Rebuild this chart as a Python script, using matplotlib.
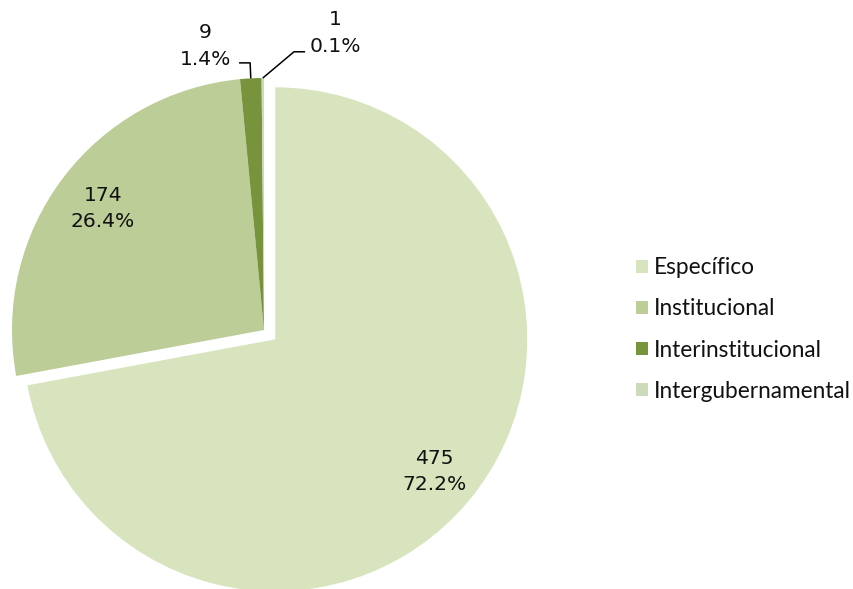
import matplotlib.pyplot as plt
import numpy as np

# Data
categories = ['Específico', 'Institucional', 'Interinstitucional', 'Intergubernamental']
counts = [475, 174, 9, 1]
percent_labels = ['72.2%', '26.4%', '1.4%', '0.1%']

colors = ['#D7E4BD', '#BCCD98', '#77933C', '#CEDBBA']
explode = [0.058, 0, 0, 0]

fig = plt.figure(figsize=(8.54, 5.89), dpi=100)
ax = fig.add_axes([0, 0, 1, 1])

wedges, _ = ax.pie(counts, colors=colors, explode=explode, startangle=90,
                   counterclock=False, wedgeprops=dict(linewidth=0))

# pie radius = 252 px, centre at (264, 330) px from top-left
ax.set_aspect('auto')
ax.set_xlim(-264 / 252, (854 - 264) / 252)
ax.set_ylim(-(589 - 330) / 252, 330 / 252)
ax.axis('off')

label_font = dict(fontsize=14.6, family='DejaVu Sans', color='#111111',
                  ha='center', va='center', linespacing=1.5)

# labels inside the two big slices
for w, n, p, dist in zip(wedges[:2], counts[:2], percent_labels[:2], [0.82, 0.8]):
    mid = np.deg2rad((w.theta1 + w.theta2) / 2)
    cx, cy = w.center
    ax.text(cx + dist * np.cos(mid), cy + dist * np.sin(mid), f'{n}\n{p}', **label_font)

# outside labels with leader lines for the two thin slices
outside = {
    2: dict(text=(-0.234, 1.127), line=[(-0.099, 1.06), (-0.055, 1.06)]),
    3: dict(text=(0.282, 1.179), line=[(0.163, 1.104), (0.119, 1.104)]),
}
for i, spec in outside.items():
    w = wedges[i]
    mid = np.deg2rad((w.theta1 + w.theta2) / 2)
    cx, cy = w.center
    rim = (cx + np.cos(mid), cy + np.sin(mid))
    pts = spec['line'] + [rim]
    ax.plot([q[0] for q in pts], [q[1] for q in pts], color='black', lw=1.1,
            solid_capstyle='butt')
    ax.text(spec['text'][0], spec['text'][1], f'{counts[i]}\n{percent_labels[i]}',
            **label_font)

leg = ax.legend(wedges, categories, loc='center left',
                bbox_to_anchor=(636 / 854, 1 - 329.5 / 589),
                bbox_transform=fig.transFigure, frameon=False,
                handlelength=0.52, handleheight=0.52, handletextpad=0.26,
                labelspacing=0.89, borderpad=0, borderaxespad=0,
                prop=dict(family='Lato', size=16.3))
for t in leg.get_texts():
    t.set_color('#111111')

fig.savefig('out.png', dpi=100)
